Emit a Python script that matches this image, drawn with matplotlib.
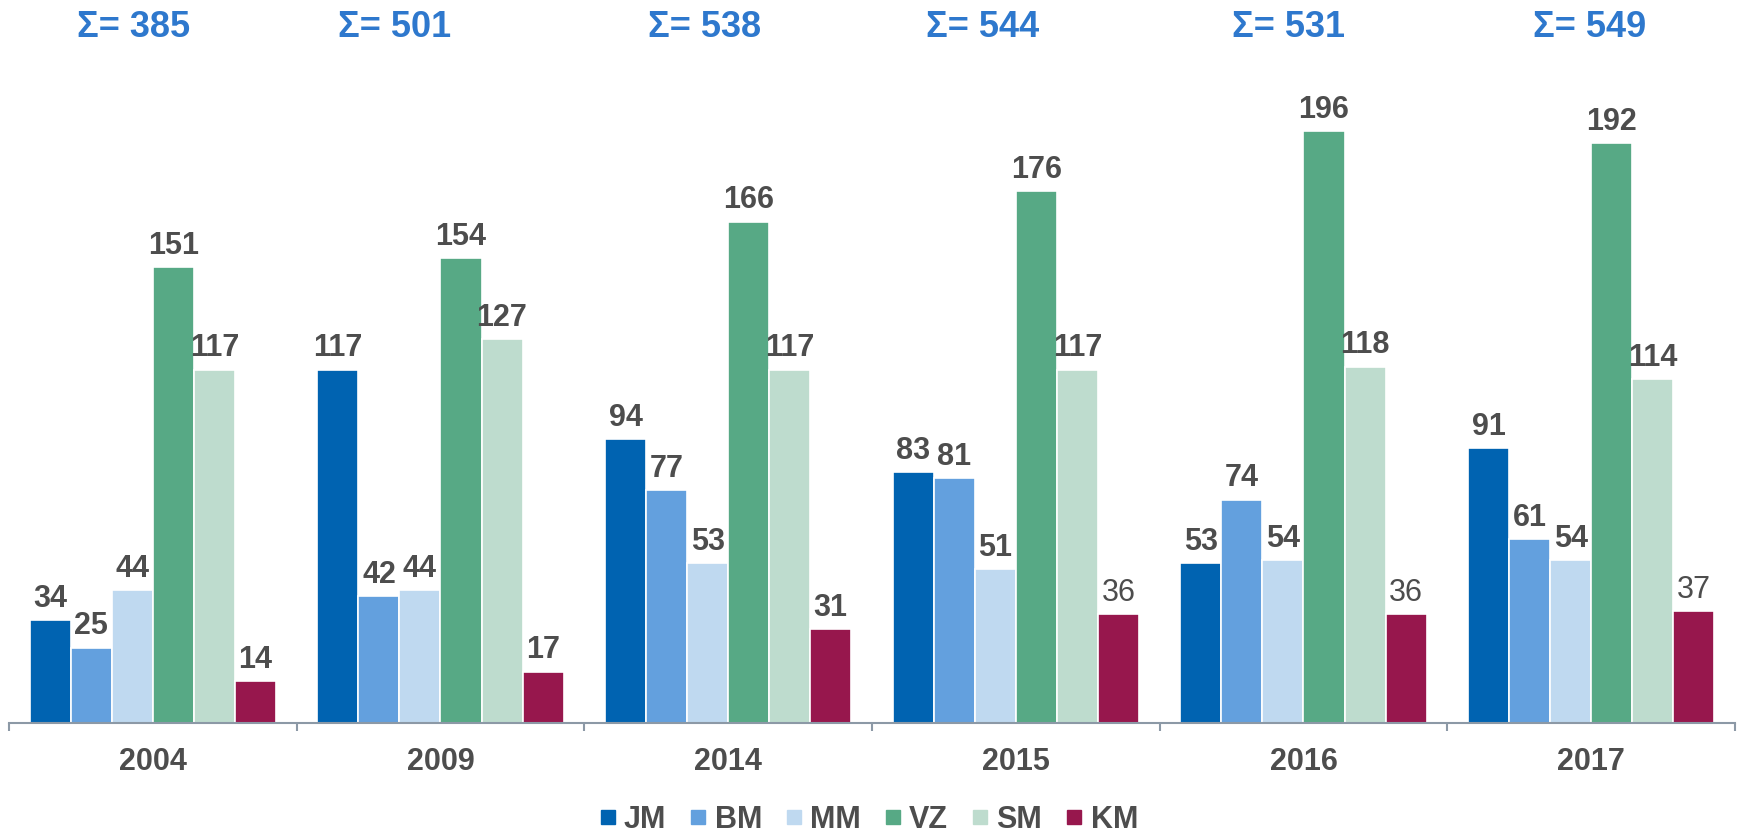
import matplotlib
matplotlib.use("Agg")
import matplotlib.pyplot as plt
from matplotlib.lines import Line2D

years = ["2004", "2009", "2014", "2015", "2016", "2017"]
series = ["JM", "BM", "MM", "VZ", "SM", "KM"]
JM = [34, 117, 94, 83, 53, 91]
BM = [25, 42, 77, 81, 74, 61]
MM = [44, 44, 53, 51, 54, 54]
VZ = [151, 154, 166, 176, 196, 192]
SM = [117, 127, 117, 117, 118, 114]
KM = [14, 17, 31, 36, 36, 37]
totals = [385, 501, 538, 544, 531, 549]
values = [JM, BM, MM, VZ, SM, KM]
colors = ["#0063B1", "#63A0DE", "#BFD9F0", "#57A985", "#BEDCCE", "#97174D"]
# labels drawn in normal weight (others bold)
normal_labels = {(5, 3), (5, 4), (5, 5)}
sigma_offsets = [-0.067, -0.158, -0.083, -0.116, -0.052, -0.006]

plt.rcParams['font.family'] = ['Liberation Sans', 'DejaVu Sans']
W, H = 1738, 835
fig = plt.figure(figsize=(W / 100, H / 100), dpi=100)
ax = fig.add_axes([9 / W, 1 - 723 / H, (1735 - 9) / W, 723 / H])

bw = 0.1426
text_col = "#4D4D4D"
ymax = 723 / 3.02
for j, (vals, c) in enumerate(zip(values, colors)):
    xs = [i + (j - 2.5) * bw for i in range(len(years))]
    ax.bar(xs, vals, width=bw, color=c, edgecolor="white", linewidth=1.2)
    for i, (x, v) in enumerate(zip(xs, vals)):
        bold = (j, i) not in normal_labels
        ax.annotate(str(v), (x, v), xytext=(0, 9.5), textcoords="offset points",
                    ha="center", va="baseline", fontsize=22,
                    fontweight="bold" if bold else "normal", color=text_col)

for i, t in enumerate(totals):
    ax.text(i + sigma_offsets[i], (723 - 37) / 3.02, f"Σ= {t}", ha="center",
            va="baseline", fontsize=26, fontweight="bold", color="#2E78CD")

ax.set_xlim(-0.5, len(years) - 0.5)
ax.set_ylim(0, ymax)
ax.set_xticks(range(len(years)))
ax.set_xticklabels(years, fontsize=22, fontweight="bold", color=text_col)
ax.set_xticks([k - 0.5 for k in range(len(years) + 1)], minor=True)
ax.tick_params(axis="x", which="major", length=0, pad=17)
ax.tick_params(axis="x", which="minor", length=6, width=1.5, color="#8C99A6", direction="out")
ax.set_yticks([])
for s in ["top", "right", "left"]:
    ax.spines[s].set_visible(False)
ax.spines["bottom"].set_color("#8C99A6")
ax.spines["bottom"].set_linewidth(1.5)

handles = [Line2D([], [], marker="s", linestyle="", markersize=9.5, color=c) for c in colors]
fig.legend(handles, series, loc="center", bbox_to_anchor=(0.5, 1 - 820 / H), ncol=6,
           frameon=False, handlelength=0.5, handletextpad=0.28, columnspacing=0.8,
           prop={"size": 22, "weight": "bold"}, labelcolor=text_col)

fig.savefig("out.png", dpi=100)
